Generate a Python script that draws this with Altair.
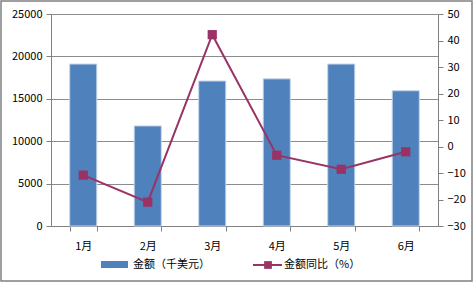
import altair as alt
import pandas as pd

months = ["1月", "2月", "3月", "4月", "5月", "6月"]
amount = [19100, 11800, 17100, 17350, 19100, 15950]
yoy = [-10.8, -21.0, 42.2, -3.3, -8.6, -2.0]

bar_color = "#4F81BD"
line_color = "#993366"
font = "Noto Sans CJK SC"

df = pd.DataFrame({"月份": months, "金额": amount, "同比": yoy})

x = alt.X("月份:N", sort=months, title=None,
          scale=alt.Scale(paddingInner=0.58, paddingOuter=0.29),
          axis=alt.Axis(labelAngle=0, labelPadding=9, tickSize=5, tickBand="extent",
                        domainColor="#808080", tickColor="#808080",
                        labelFont=font, labelFontSize=11, labelColor="#000000"))

bars = alt.Chart(df).mark_bar(color=bar_color, stroke="#c5d6ea", strokeWidth=1).encode(
    x=x,
    y=alt.Y("金额:Q", title=None,
            scale=alt.Scale(domain=[0, 25000], nice=False),
            axis=alt.Axis(values=[0, 5000, 10000, 15000, 20000, 25000], grid=True, format="d",
                          gridColor="#8c8c8c", tickSize=5, tickColor="#808080",
                          domainColor="#808080", labelPadding=4,
                          labelFont=font, labelFontSize=11, labelColor="#000000")),
)

line = alt.Chart(df).mark_line(color=line_color, strokeWidth=2,
                               point=alt.OverlayMarkDef(shape="square", size=85, color=line_color, filled=True, opacity=1)).encode(
    x=x,
    y=alt.Y("同比:Q", title=None,
            scale=alt.Scale(domain=[-30, 50], nice=False),
            axis=alt.Axis(orient="right", values=list(range(-30, 51, 10)), grid=False,
                          tickSize=5, tickColor="#808080", domainColor="#808080",
                          labelPadding=4, labelFont=font, labelFontSize=11,
                          labelColor="#000000")),
)

one = pd.DataFrame({"k": [0]})
leg_rect = alt.Chart(one).mark_rect(color=bar_color).encode(
    x=alt.value(50), x2=alt.value(77), y=alt.value(247), y2=alt.value(254))
leg_text1 = alt.Chart(one).mark_text(align="left", baseline="middle", font=font, fontSize=11, color="#000000").encode(
    x=alt.value(82), y=alt.value(251), text=alt.value("金额（千美元）"))
leg_line = alt.Chart(one).mark_rule(color=line_color, strokeWidth=2).encode(
    x=alt.value(202), x2=alt.value(231), y=alt.value(251))
leg_pt = alt.Chart(one).mark_point(shape="square", size=60, color=line_color, filled=True, opacity=1).encode(
    x=alt.value(217), y=alt.value(251))
leg_text2 = alt.Chart(one).mark_text(align="left", baseline="middle", font=font, fontSize=11, color="#000000").encode(
    x=alt.value(233), y=alt.value(251), text=alt.value("金额同比（%）"))
border = alt.Chart(one).mark_rect(fill=None, stroke="#808080", strokeWidth=1.5).encode(
    x=alt.value(-50), x2=alt.value(421), y=alt.value(-13), y2=alt.value(267))

chart = alt.layer(bars, line, leg_rect, leg_text1, leg_line, leg_pt, leg_text2, border).resolve_scale(
    y="independent"
).properties(
    width=387, height=212,
    padding={"left": 51, "top": 14, "right": 36, "bottom": 57},
    autosize=alt.AutoSizeParams(type="none"),
    background="#ffffff",
).configure_view(stroke=None)

chart.save("out.html", embed_options={"renderer": "svg", "actions": False})
